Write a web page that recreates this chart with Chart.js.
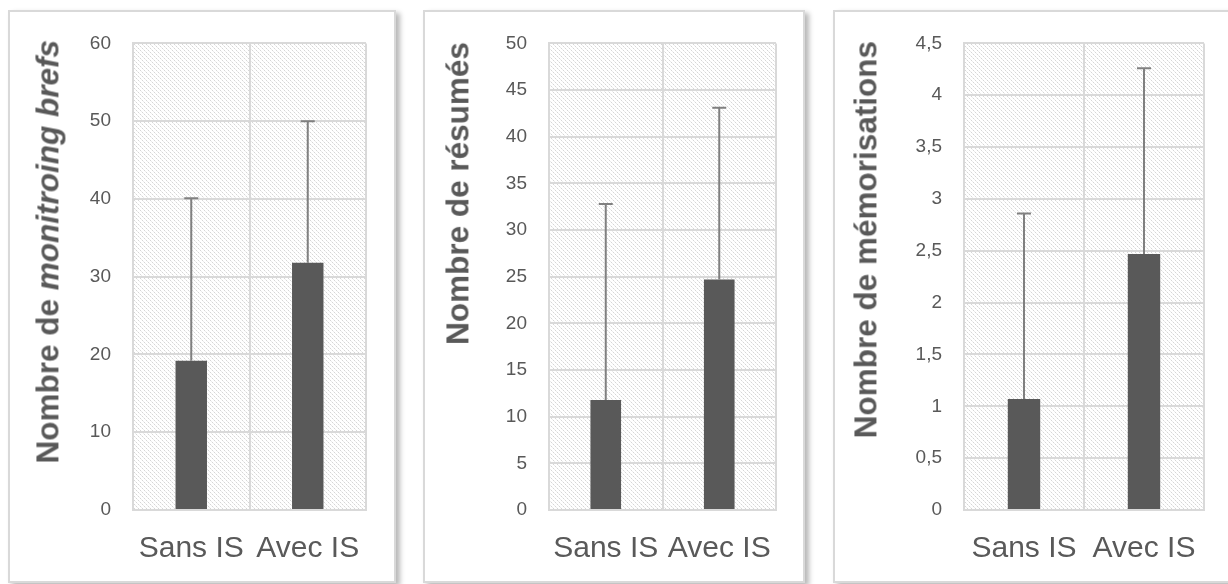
<!DOCTYPE html>
<html>
<head>
<meta charset="utf-8">
<script src="https://cdn.jsdelivr.net/npm/chart.js@4.4.1/dist/chart.umd.min.js"></script>
<style>
  html, body { margin: 0; padding: 0; background: #fff; overflow: hidden; }
  body { width: 1228px; height: 584px; position: relative; font-family: "Liberation Sans", Arial, sans-serif; }
  .frame { position: absolute; box-sizing: border-box; border: 2px solid #d9d9d9; background: #fff;
           box-shadow: 4px 3px 5px rgba(0,0,0,0.28); }
  canvas { position: absolute; }
  .ytitle { position: absolute; writing-mode: vertical-rl; transform: rotate(180deg);
            font: bold 31.5px "Liberation Sans", Arial, sans-serif; color: #595959; line-height: 1; white-space: nowrap; }
</style>
</head>
<body>

<div class="frame" style="left:8px;top:10px;width:388px;height:573px"></div>
<div class="frame" style="left:423px;top:10px;width:382px;height:573px"></div>
<div class="frame" style="left:833px;top:10px;width:420px;height:573px"></div>

<canvas id="c1" width="388" height="573" style="left:8px;top:10px"></canvas>
<canvas id="c2" width="382" height="573" style="left:423px;top:10px"></canvas>
<canvas id="c3" width="420" height="573" style="left:833px;top:10px"></canvas>

<div class="ytitle" style="left:33px;top:40px">Nombre de <i>monitroing brefs</i></div>
<div class="ytitle" style="left:443px;top:42px">Nombre de résumés</div>
<div class="ytitle" style="left:851px;top:41px">Nombre de mémorisations</div>

<script>
// categories
const groupes = ['Sans IS', 'Avec IS'];

// monitoring brefs
const briefsMoy = [19.2, 31.8];
const briefsErr = [20.9, 18.2];
// résumés
const resumesMoy = [11.8, 24.7];
const resumesErr = [21.0, 18.4];
// mémorisations
const memoMoy = [1.07, 2.47];
const memoErr = [1.79, 1.79];

const gris = '#595959';
const grille = '#d9d9d9';

// motif hachuré du fond
function makeHatch() {
    let p = document.createElement('canvas');
    p.width = 8; p.height = 8;
    let g = p.getContext('2d');
    g.fillStyle = '#fff';
    g.fillRect(0, 0, 8, 8);
    for (let i = 0; i < 8; i++) {
        for (let k = 0; k < 8; k += 4) {
            let x = (i + k) % 8;
            g.fillStyle = (i % 2 == 0) ? '#d6d6d6' : '#ececec';
            g.fillRect(x, i, 1, 1);
        }
    }
    return g.createPattern(p, 'repeat');
}

const hatchPlugin = {
    id: 'hatch',
    beforeDraw(chart) {
        let a = chart.chartArea;
        let ctx = chart.ctx;
        ctx.save();
        ctx.fillStyle = makeHatch();
        ctx.fillRect(a.left, a.top, a.right - a.left, a.bottom - a.top);
        ctx.restore();
    }
};

// barres d'erreur (vers le haut seulement)
const errPlugin = {
    id: 'errbars',
    afterDatasetsDraw(chart, args, opts) {
        let ctx = chart.ctx;
        let yScale = chart.scales.y;
        let meta = chart.getDatasetMeta(0);
        let vals = chart.data.datasets[0].data;
        ctx.save();
        ctx.strokeStyle = '#808080';
        ctx.lineWidth = 2;
        meta.data.forEach(function(bar, i) {
            let y0 = yScale.getPixelForValue(vals[i]);
            let y1 = yScale.getPixelForValue(vals[i] + opts.err[i]);
            ctx.beginPath();
            ctx.moveTo(bar.x, y0);
            ctx.lineTo(bar.x, y1);
            ctx.moveTo(bar.x - 7, y1);
            ctx.lineTo(bar.x + 7, y1);
            ctx.stroke();
        });
        ctx.restore();
    }
};

function makePanel(id, moy, err, max, step, yWidth, padRight) {
    let ctx = document.getElementById(id).getContext('2d');
    return new Chart(ctx, {
        type: 'bar',
        data: {
            labels: groupes,
            datasets: [{
                data: moy,
                backgroundColor: gris,
                borderWidth: 0,
                barPercentage: 0.27,
                categoryPercentage: 1
            }]
        },
        options: {
            responsive: false,
            animation: false,
            layout: { padding: { top: 30, right: padRight, left: 0, bottom: 0 } },
            plugins: {
                legend: { display: false },
                tooltip: { enabled: false },
                errbars: { err: err }
            },
            scales: {
                x: {
                    grid: { offset: true, color: grille, lineWidth: 2, drawTicks: false },
                    border: { display: true, color: grille, width: 2 },
                    ticks: { color: gris, padding: 21, font: { family: 'Liberation Sans', size: 30 } },
                    afterFit: function(scale) { scale.height = 73; }
                },
                y: {
                    min: 0,
                    max: max,
                    grid: { color: grille, lineWidth: 2, drawTicks: false },
                    border: { display: true, color: grille, width: 2 },
                    ticks: {
                        stepSize: step,
                        color: gris,
                        padding: 22,
                        font: { family: 'Liberation Sans', size: 19 },
                        callback: function(v) { return String(Math.round(v * 10) / 10).replace('.', ','); }
                    },
                    afterFit: function(scale) { scale.width = yWidth; }
                }
            }
        },
        plugins: [hatchPlugin, errPlugin]
    });
}

makePanel('c1', briefsMoy, briefsErr, 60, 10, 125, 30);
makePanel('c2', resumesMoy, resumesErr, 50, 5, 126, 29);
makePanel('c3', memoMoy, memoErr, 4.5, 0.5, 131, 49);
</script>
</body>
</html>
